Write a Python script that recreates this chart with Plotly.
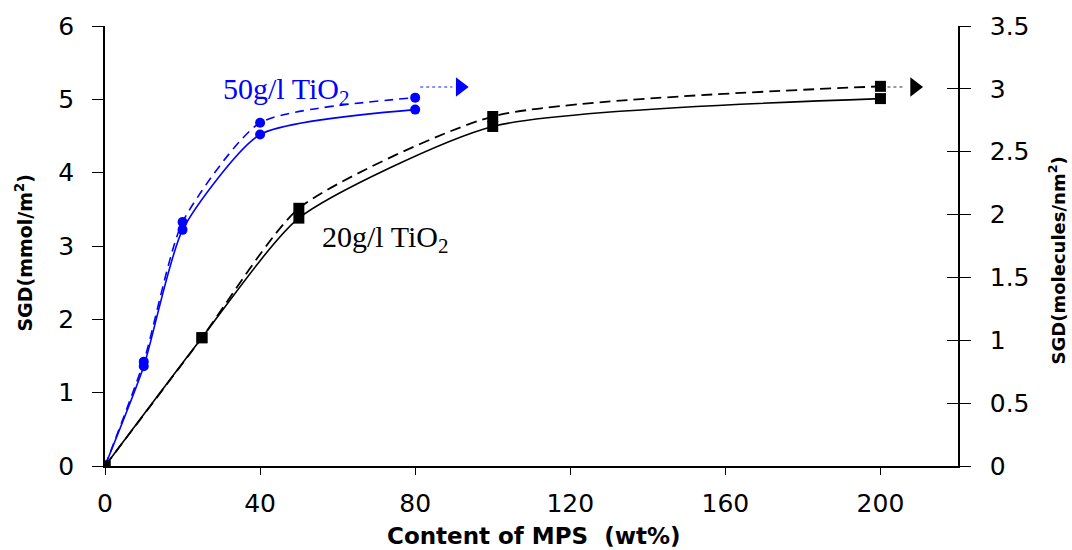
import plotly.graph_objects as go

# ---- data ----
x_50 = [0, 10, 20, 40, 80]
sgd_50_mmol = [0, 1.36, 3.22, 4.52, 4.86]      # solid, left axis (mmol/m2)
sgd_50_molec = [0, 0.83, 1.94, 2.73, 2.93]     # dashed, right axis (molecules/nm2)

x_20 = [0, 25, 50, 100, 200]
sgd_20_mmol = [0, 1.75, 3.38, 4.63, 5.01]      # solid, left axis
sgd_20_molec = [0, 1.02, 2.05, 2.78, 3.02]     # dashed, right axis

arrow_50_x = [81.3, 89.6]
arrow_50_tip = [91.6]
arrow_20_x = [201.8, 206.4]
arrow_20_tip = [208.8]
arrow_y = 3.015

x_ticks = [0, 40, 80, 120, 160, 200]
left_ticks = [0, 1, 2, 3, 4, 5, 6]
right_ticks = [0, 0.5, 1, 1.5, 2, 2.5, 3, 3.5]

BLUE = "#0000ff"
BLACK = "#000000"
TICKFONT = dict(family="DejaVu Sans", size=25, color=BLACK)
TITLEFONT = dict(family="DejaVu Sans", size=18, color=BLACK)
SMOOTH = 0.6

fig = go.Figure()

# 50 g/l series
fig.add_trace(go.Scatter(x=x_50, y=sgd_50_mmol, mode="lines+markers",
                         line=dict(color=BLUE, width=1.6, shape="spline", smoothing=SMOOTH),
                         marker=dict(symbol="circle", size=10, color=BLUE),
                         yaxis="y", showlegend=False))
fig.add_trace(go.Scatter(x=x_50, y=sgd_50_molec, mode="lines+markers",
                         line=dict(color=BLUE, width=1.6, dash="9px,6px", shape="spline", smoothing=SMOOTH),
                         marker=dict(symbol="circle", size=10, color=BLUE),
                         yaxis="y2", showlegend=False))
# 20 g/l series
fig.add_trace(go.Scatter(x=x_20, y=sgd_20_mmol, mode="lines+markers",
                         line=dict(color=BLACK, width=1.6, shape="spline", smoothing=SMOOTH),
                         marker=dict(symbol="square", size=11, color=BLACK),
                         yaxis="y", showlegend=False))
fig.add_trace(go.Scatter(x=x_20, y=sgd_20_molec, mode="lines+markers",
                         line=dict(color=BLACK, width=1.8, dash="11px,6px", shape="spline", smoothing=SMOOTH),
                         marker=dict(symbol="square", size=11, color=BLACK),
                         yaxis="y2", showlegend=False))

# arrows pointing to right axis
fig.add_trace(go.Scatter(x=arrow_50_x, y=[arrow_y] * 2, mode="lines",
                         line=dict(color="#8c8cff", width=2, dash="dot"),
                         yaxis="y2", showlegend=False, hoverinfo="skip"))
fig.add_trace(go.Scatter(x=arrow_50_tip, y=[arrow_y], mode="markers",
                         marker=dict(symbol="triangle-right", size=17, color=BLUE),
                         yaxis="y2", showlegend=False, hoverinfo="skip"))
fig.add_trace(go.Scatter(x=arrow_20_x, y=[arrow_y] * 2, mode="lines",
                         line=dict(color="#999999", width=2, dash="dot"),
                         yaxis="y2", showlegend=False, hoverinfo="skip"))
fig.add_trace(go.Scatter(x=arrow_20_tip, y=[arrow_y], mode="markers",
                         marker=dict(symbol="triangle-right", size=17, color=BLACK),
                         yaxis="y2", showlegend=False, hoverinfo="skip"))

fig.update_layout(
    width=1072, height=550,
    margin=dict(l=105, r=114, t=21, b=84, pad=0),
    plot_bgcolor="white", paper_bgcolor="white",
    xaxis=dict(range=[0, 220], tickvals=x_ticks, ticks="outside", ticklen=7,
               tickcolor=BLACK, tickwidth=1.3, showline=True, linecolor=BLACK, linewidth=1.5,
               showgrid=False, zeroline=False, tickfont=TICKFONT, ticklabelstandoff=7),
    yaxis=dict(range=[0, 6], tickvals=left_ticks, ticks="outside", ticklen=11,
               tickcolor=BLACK, tickwidth=1.3, showline=True, linecolor=BLACK, linewidth=1.5,
               showgrid=False, zeroline=False, tickfont=TICKFONT, ticklabelstandoff=13),
    yaxis2=dict(range=[0, 3.5], tickvals=right_ticks, ticks="outside", ticklen=11,
                tickcolor=BLACK, tickwidth=1.3, showline=True, linecolor=BLACK, linewidth=1.5,
                showgrid=False, zeroline=False, tickfont=TICKFONT, ticklabelstandoff=14,
                overlaying="y", side="right", anchor="x"),
    yaxis3=dict(range=[0, 3.5], tickvals=right_ticks, ticks="inside", ticklen=11,
                tickcolor=BLACK, tickwidth=1.3, showline=False, showticklabels=False,
                showgrid=False, zeroline=False, overlaying="y", side="right", anchor="x"),
    annotations=[
        dict(text="50g/l TiO<sub>2</sub>", x=30.0, y=5.12, xref="x", yref="y",
             xanchor="left", yanchor="middle", showarrow=False,
             font=dict(family="Liberation Serif", size=30, color=BLUE)),
        dict(text="20g/l TiO<sub>2</sub>", x=55.5, y=3.10, xref="x", yref="y",
             xanchor="left", yanchor="middle", showarrow=False,
             font=dict(family="Liberation Serif", size=30, color=BLACK)),
        dict(text="<b>SGD(mmol/m<sup>2</sup>)</b>", x=-0.095, y=0.485, xref="paper", yref="paper",
             xanchor="center", yanchor="middle", textangle=-90, showarrow=False,
             font=dict(family="DejaVu Sans", size=19, color=BLACK)),
        dict(text="<b>SGD(molecules/nm<sup>2</sup>)</b>", x=1.116, y=0.467, xref="paper", yref="paper",
             xanchor="center", yanchor="middle", textangle=-90, showarrow=False, font=TITLEFONT),
        dict(text="<b>Content of MPS&nbsp; (wt%)</b>", x=0.502, y=-0.16, xref="paper", yref="paper",
             xanchor="center", yanchor="middle", showarrow=False,
             font=dict(family="DejaVu Sans", size=23, color=BLACK)),
    ],
)
# dummy trace so yaxis3 (inside ticks of right axis) is drawn
fig.add_trace(go.Scatter(x=[None], y=[None], yaxis="y3", showlegend=False, hoverinfo="skip"))

fig.write_html("out.html")
